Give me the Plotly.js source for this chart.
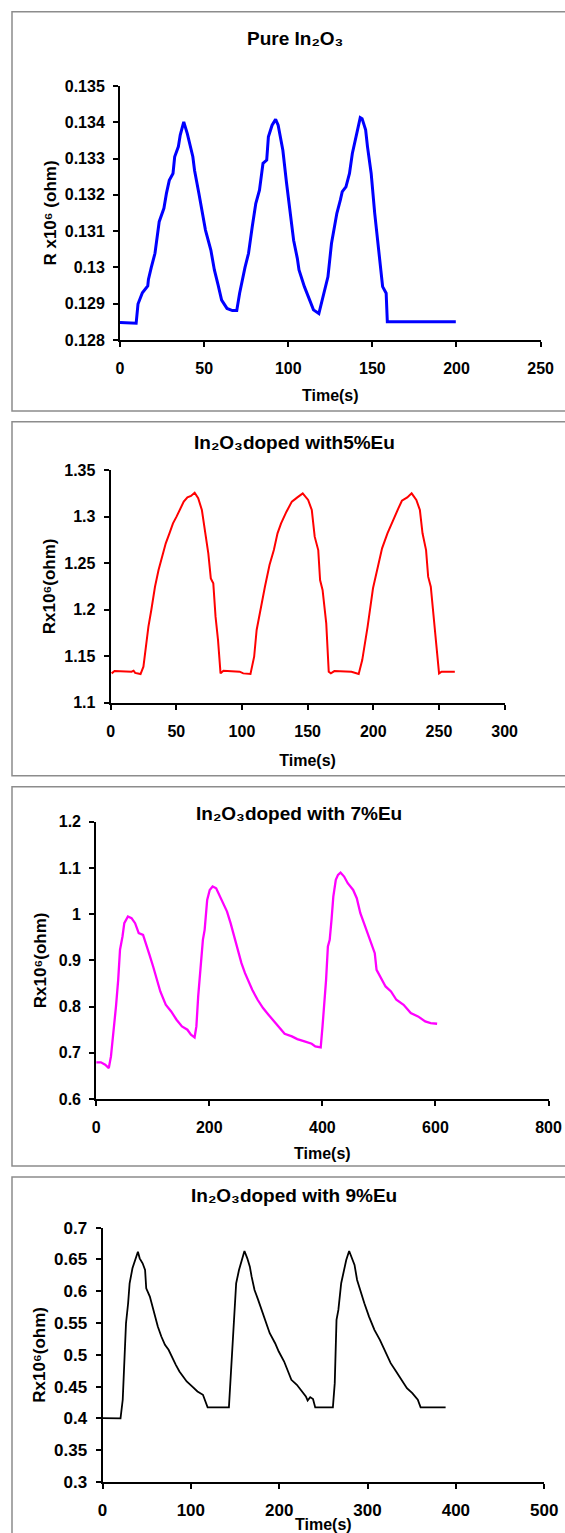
<!DOCTYPE html>
<html>
<head>
<meta charset="utf-8">
<script src="https://cdn.plot.ly/plotly-3.0.1.min.js"></script>
<style>
html,body{margin:0;padding:0;background:#fff;}
#chart{width:565px;height:1533px;}
</style>
</head>
<body>
<div id="chart"></div>
<script>
// ---------- DATA ----------
const titles = [
  "Pure In₂O₃",
  "In₂O₃doped with5%Eu",
  "In₂O₃doped with 7%Eu",
  "In₂O₃doped with 9%Eu"
];
const yTitles = [
  "R x10⁶ (ohm)",
  "Rx10⁶(ohm)",
  "Rx10⁶(ohm)",
  "Rx10⁶(ohm)"
];
const xTitle = "Time(s)";

// Pure In2O3
const t1 = [0,9.6,10.7,13.3,16.5,16.9,18.6,20.8,23.3,26.1,27.6,29.3,31.5,32.5,34.7,35.8,37.9,40.0,43.3,44.3,46.9,49.0,50.8,54.0,56.1,58.3,60.4,63.6,66.8,69.4,71.1,74.3,76.4,78.6,80.7,82.9,85.0,87.2,88.2,90.4,92.5,94.0,96.8,98.9,101.1,103.2,105.4,106.4,109.6,111.8,115.0,118.2,120.3,123.6,125.7,128.9,131.0,132.1,134.3,136.4,138.1,140.7,142.8,143.9,146.0,147.1,149.3,151.4,153.1,154.6,156.1,158.2,158.9,199.6];
const r1 = [0.12848,0.12846,0.12899,0.12930,0.12949,0.12967,0.13000,0.13039,0.13126,0.13163,0.13204,0.13240,0.13259,0.13305,0.13333,0.13365,0.13401,0.13369,0.13305,0.13268,0.13204,0.13149,0.13103,0.13048,0.12993,0.12952,0.12910,0.12887,0.12881,0.12881,0.12929,0.13000,0.13039,0.13112,0.13176,0.13213,0.13287,0.13296,0.13360,0.13392,0.13408,0.13392,0.13323,0.13236,0.13149,0.13075,0.13025,0.12993,0.12947,0.12920,0.12883,0.12873,0.12910,0.12974,0.13066,0.13149,0.13186,0.13209,0.13222,0.13259,0.13314,0.13369,0.13413,0.13410,0.13379,0.13333,0.13259,0.13149,0.13075,0.13002,0.12947,0.12929,0.12850,0.12850];

// 5% Eu
const t2 = [0.8,3,16,17.5,18.7,22.8,25,26.9,28.8,31,33.8,36.5,39.3,42,44.8,47.5,50.2,53,55.7,58.5,61.2,64,66.7,69.5,72.2,74.4,76.3,78.2,79.9,81.8,83.7,85.9,98.3,101,106.5,109.3,111.2,113.9,117.5,121,124.3,127.1,129.8,133.9,138,142.2,146.3,150.4,153.2,155.4,158.1,159.5,161.4,164.2,166.1,167.7,170.4,183.4,188.9,191.6,195.7,199.8,203.4,206.7,210.8,214.9,219.1,221.8,225.9,229.2,232.8,235.5,237.5,240.2,241.8,243.8,245.7,247.9,250.1,252,262.1];
const r2 = [1.1315,1.1340,1.1333,1.1344,1.1320,1.1308,1.1387,1.1638,1.1817,1.1996,1.2246,1.2425,1.2569,1.2712,1.2820,1.2927,1.2999,1.3077,1.3160,1.3206,1.3221,1.3256,1.3196,1.3070,1.2820,1.2605,1.2336,1.2282,1.1924,1.1673,1.1315,1.1344,1.1333,1.1315,1.1308,1.1494,1.1781,1.1996,1.2246,1.2479,1.2640,1.2820,1.2927,1.3052,1.3160,1.3206,1.3249,1.3178,1.3070,1.2784,1.2640,1.2318,1.2211,1.1852,1.1333,1.1315,1.1340,1.1333,1.1308,1.1458,1.1817,1.2229,1.2461,1.2658,1.2820,1.2963,1.3088,1.3170,1.3206,1.3249,1.3178,1.3070,1.2820,1.2640,1.2354,1.2246,1.1924,1.1638,1.1315,1.1333,1.1333];

// 7% Eu
const t3 = [0,8.3,15.9,22.3,26.1,30.6,35,38.9,42.1,46.5,49.7,56.1,62.5,68.8,75.2,82.9,88,94.3,100.7,107.1,113.4,123,132.6,142.1,151.7,161.3,167.6,174,177.2,180.4,184.8,188.7,191.8,196.3,200.8,205.9,212.2,218.6,225,231.4,237.7,244.1,250.5,256.9,263.2,269.6,276,285.5,295.1,304.7,314.2,323.8,333.3,346.1,355.7,368.4,381.2,387.5,397.1,400.3,403.4,406.6,409.8,413,416.2,419.4,423.8,427.7,432.2,438.5,444.9,454.5,460.9,467.2,473.6,480,486.3,492.7,495.9,502.2,511.8,521.4,530.9,543.7,556.4,569.2,581.9,591.5,603];
const r3 = [0.6793,0.6793,0.6742,0.6670,0.6922,0.7427,0.8003,0.8579,0.9228,0.9516,0.9804,0.9948,0.9912,0.9804,0.9588,0.9552,0.9372,0.9120,0.8867,0.8579,0.8327,0.8039,0.7895,0.7715,0.7571,0.7499,0.7390,0.7333,0.7571,0.8219,0.8867,0.9444,0.9660,1.0308,1.0524,1.0597,1.0560,1.0380,1.0236,1.0056,0.9804,0.9516,0.9228,0.8939,0.8723,0.8543,0.8363,0.8147,0.7967,0.7823,0.7679,0.7535,0.7412,0.7354,0.7297,0.7246,0.7196,0.7138,0.7117,0.7571,0.8003,0.8579,0.9300,0.9444,0.9876,1.0380,1.0741,1.0849,1.0899,1.0813,1.0669,1.0524,1.0344,1.0020,0.9804,0.9588,0.9372,0.9156,0.8795,0.8651,0.8435,0.8327,0.8147,0.8039,0.7859,0.7787,0.7679,0.7643,0.7628];

// 9% Eu
const t4 = [0,20.4,22.9,24.9,26.6,29,30.7,33.9,37.2,40.1,42.1,45.4,48.2,49.5,53.6,56.4,59.3,62.6,66.6,70.7,74.8,78.9,83,87.1,91.2,95.3,101.4,107.5,113.7,116.5,119,143.1,146.4,149.2,151.3,154.5,157.4,160.7,163.9,166.8,168.8,172.1,176.2,180.3,185.2,189.3,195.4,199.5,205.6,209.7,213.8,220,226.1,230.2,232.2,235.1,238.3,240.8,260.8,262.9,264.9,267,270.2,273.1,275.9,279.2,282.1,285.3,288.2,291.5,296.4,301.7,307.8,314,320.1,326.2,332.4,338.5,344.6,350.7,356.9,360.1,388.4];
const r4 = [0.4005,0.4000,0.4293,0.4974,0.5497,0.5812,0.6126,0.6361,0.6492,0.6623,0.6518,0.6440,0.6335,0.6047,0.5916,0.5759,0.5602,0.5445,0.5288,0.5157,0.5079,0.4948,0.4843,0.4738,0.4660,0.4581,0.4503,0.4424,0.4372,0.4267,0.4173,0.4173,0.4974,0.5707,0.6126,0.6335,0.6492,0.6634,0.6518,0.6387,0.6230,0.6021,0.5864,0.5707,0.5497,0.5340,0.5183,0.5052,0.4895,0.4764,0.4607,0.4529,0.4424,0.4346,0.4283,0.4335,0.4304,0.4173,0.4173,0.4555,0.5550,0.5707,0.6126,0.6335,0.6492,0.6634,0.6518,0.6414,0.6178,0.6021,0.5812,0.5602,0.5393,0.5236,0.5052,0.4869,0.4738,0.4607,0.4476,0.4398,0.4293,0.4173,0.4173];

// tick values / labels
const xTicks = [[0,50,100,150,200,250],[0,50,100,150,200,250,300],[0,200,400,600,800],[0,100,200,300,400,500]];
const yTicks = [
  [0.128,0.129,0.130,0.131,0.132,0.133,0.134,0.135],
  [1.1,1.15,1.2,1.25,1.3,1.35],
  [0.6,0.7,0.8,0.9,1.0,1.1,1.2],
  [0.3,0.35,0.4,0.45,0.5,0.55,0.6,0.65,0.7]
];
const yTickText = [
  ["0.128","0.129","0.13","0.131","0.132","0.133","0.134","0.135"],
  ["1.1","1.15","1.2","1.25","1.3","1.35"],
  ["0.6","0.7","0.8","0.9","1","1.1","1.2"],
  ["0.3","0.35","0.4","0.45","0.5","0.55","0.6","0.65","0.7"]
];
const xTickText = xTicks.map(a => a.map(String));
const xRanges = [[0,250],[0,300],[0,800],[0,500]];
const yRanges = [[0.128,0.135],[1.1,1.35],[0.6,1.2],[0.3,0.7]];
const colors = ["#0000FF","#FF0000","#FF00FF","#000000"];

// ---------- LAYOUT (pixel geometry) ----------
const W = 565, H = 1533;
const px = v => v / W;
const py = v => 1 - v / H;
// plot areas [left, right, top, bottom] in px
const areas = [
  [120, 540.6, 86, 340],
  [110.6, 504.6, 470, 702.7],
  [96.2, 548.5, 821.7, 1099],
  [102.5, 544.2, 1227.7, 1482]
];
const boxes = [[12, 11.7, 411], [12, 421.7, 775.7], [12, 786.7, 1166], [12, 1177, 1545]];
const titlePos = [[295, 39], [294, 443], [299, 813], [294, 1195]];
const lineW = [3, 2, 2.3, 1.8];
const tickSize = [16, 16, 16, 17];
const xLabelStandoff = [8, 8, 8, 7];
const xStandoff = [14, 16, 13, 0];
const yStandoff = [4, 4, 8, 4];

const FONT = "Liberation Sans, Arial, sans-serif";
const traces = [[t1,r1],[t2,r2],[t3,r3],[t4,r4]].map((d, i) => ({
  x: d[0], y: d[1], type: "scatter", mode: "lines",
  line: {color: colors[i], width: lineW[i]},
  xaxis: "x" + (i ? i + 1 : ""), yaxis: "y" + (i ? i + 1 : ""),
  hoverinfo: "skip", showlegend: false
}));

const layout = {
  width: W, height: H,
  margin: {l: 0, r: 0, t: 0, b: 0},
  paper_bgcolor: "#fff", plot_bgcolor: "rgba(0,0,0,0)",
  showlegend: false,
  font: {family: FONT, color: "#000", size: 16, weight: "bold"},
  shapes: boxes.map(b => ({
    type: "rect", xref: "paper", yref: "paper", layer: "below",
    x0: px(b[0]), x1: px(W + 20), y0: py(b[2]), y1: py(b[1]),
    line: {color: "#8c8c8c", width: 1.5}, fillcolor: "rgba(0,0,0,0)"
  })),
  annotations: titles.map((t, i) => ({
    text: t, xref: "paper", yref: "paper", x: px(titlePos[i][0]), y: py(titlePos[i][1]),
    xanchor: "center", yanchor: "middle", showarrow: false,
    font: {family: FONT, size: 19, weight: "bold", color: "#000"}
  }))
};

areas.forEach((a, i) => {
  const k = i ? i + 1 : "";
  const common = {
    showgrid: false, zeroline: false, showline: true, linecolor: "#000", linewidth: 2,
    ticks: "outside", ticklen: 5, tickwidth: 2, tickcolor: "#000",
    tickmode: "array", fixedrange: true,
    tickfont: {family: FONT, size: tickSize[i], weight: "bold", color: "#000"}
  };
  layout["xaxis" + k] = Object.assign({}, common, {
    domain: [px(a[0]), px(a[1])], range: xRanges[i], anchor: "y" + k,
    tickvals: xTicks[i], ticktext: xTickText[i], ticklabelstandoff: xLabelStandoff[i],
    title: {text: xTitle, standoff: xStandoff[i], font: {family: FONT, size: 16, weight: "bold", color: "#000"}}
  });
  layout["yaxis" + k] = Object.assign({}, common, {
    domain: [py(a[3]), py(a[2])], range: yRanges[i], anchor: "x" + k,
    tickvals: yTicks[i], ticktext: yTickText[i], ticklabelstandoff: 5,
    title: {text: yTitles[i], standoff: yStandoff[i], font: {family: FONT, size: 17, weight: "bold", color: "#000"}}
  });
});

Plotly.newPlot("chart", traces, layout, {staticPlot: true, displayModeBar: false});
</script>
</body>
</html>
